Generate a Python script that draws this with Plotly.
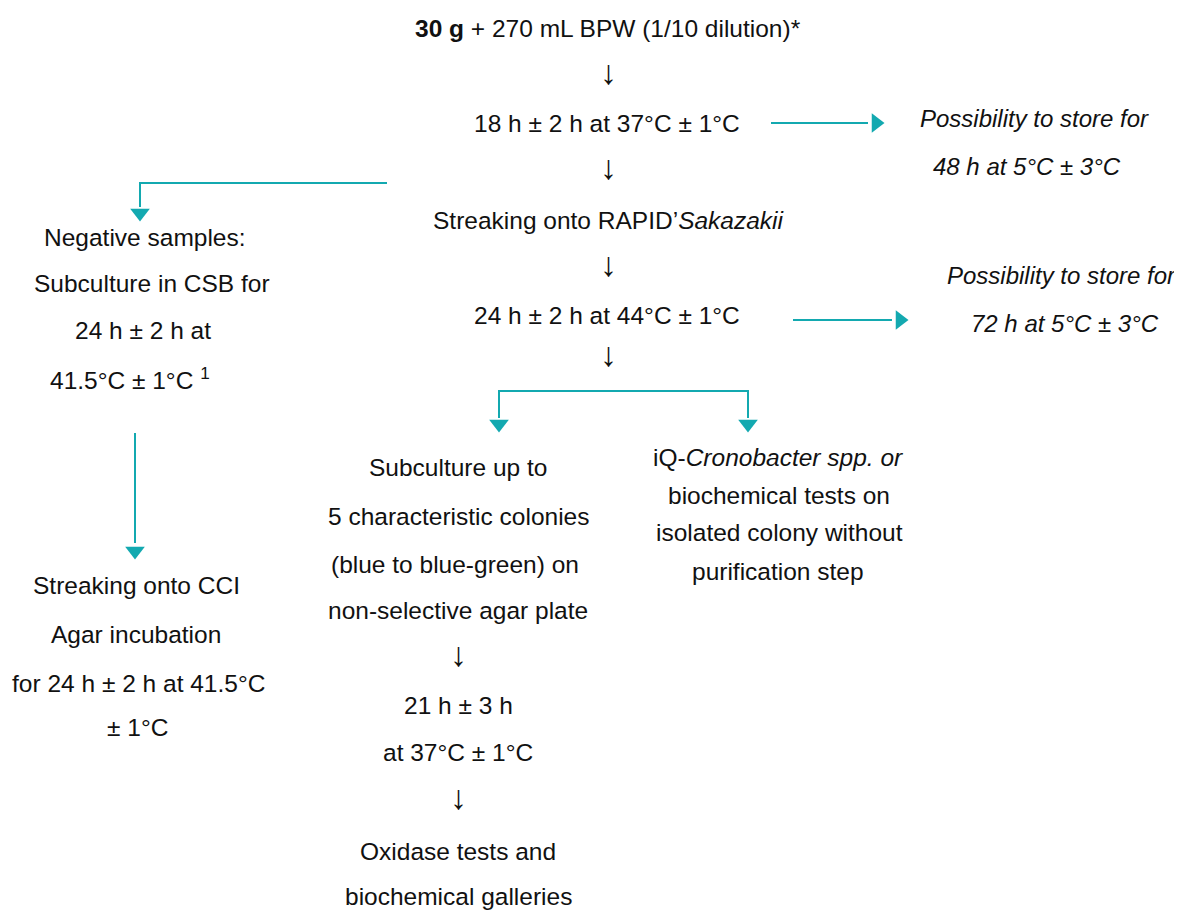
import plotly.graph_objects as go

W, H = 1182, 913
OFF = 8  # page body margin of the html page
FONT = "Liberation Sans Narrow, Arial Narrow, Liberation Sans, Arial"
TEAL = "#13A9B0"

# ---- text content of the flow chart ----
main_steps = [
    "<b>30 g</b> + 270 mL BPW (1/10 dilution)*",
    "↓",
    "18 h ± 2 h at 37°C ± 1°C",
    "↓",
    "Streaking onto RAPID’<i>Sakazakii</i>",
    "↓",
    "24 h ± 2 h at 44°C ± 1°C",
    "↓",
]
main_y = [28, 72, 123, 167, 220, 264, 315, 354]
main_x = [608, 608, 607, 608, 608, 608, 607, 608]

store_texts = [
    "<i>Possibility to store for</i>", "<i>48 h at 5°C ± 3°C</i>",
    "<i>Possibility to store for</i>", "<i>72 h at 5°C ± 3°C</i>",
]
store_x = [1034, 1027, 1061, 1065]
store_y = [118, 166, 275, 323]

neg_texts = [
    "Negative samples:", "Subculture in CSB for", "24 h ± 2 h at",
    "41.5°C ± 1°C <sup>1</sup>",
]
neg_x = [145, 152, 143, 130]
neg_y = [237, 283, 330, 378]

cci_texts = ["Streaking onto CCI", "Agar incubation",
             "for 24 h ± 2 h at 41.5°C", "± 1°C"]
cci_x = [136, 136, 138, 137]
cci_y = [585, 634, 683, 727]

sub_texts = [
    "Subculture up to", "5 characteristic colonies",
    "(blue to blue-green) on", "non-selective agar plate", "↓",
    "21 h ± 3 h", "at 37°C ± 1°C", "↓",
    "Oxidase tests and", "biochemical galleries",
]
sub_x = [458, 458, 455, 458, 458, 458, 458, 458, 458, 458]
sub_y = [467, 516, 564, 610, 654, 705, 752, 797, 851, 896]

iq_texts = ["iQ-<i>Cronobacter spp. or</i>", "biochemical tests on",
            "isolated colony without", "purification step"]
iq_x = [778, 779, 779, 778]
iq_y = [457, 495, 532, 571]

# ---- connector paths (x list, y list) and arrowheads ----
connectors = [
    ([771, 868], [123, 123]),
    ([793, 892], [320, 320]),
    ([387, 140, 140], [183, 183, 207]),
    ([135, 135], [433, 543]),
    ([499, 499, 748, 748], [418, 391, 391, 418]),
]
heads_right_x = [876, 900]
heads_right_y = [123, 320]
heads_down_x = [140, 135, 499, 748]
heads_down_y = [213, 551, 424, 424]

fig = go.Figure()

for xs, ys in connectors:
    fig.add_trace(go.Scatter(x=xs, y=ys, mode="lines",
                             line=dict(color=TEAL, width=2),
                             hoverinfo="skip", showlegend=False))

fig.add_trace(go.Scatter(x=heads_right_x, y=heads_right_y, mode="markers",
                         marker=dict(symbol="triangle-right", size=17, color=TEAL),
                         hoverinfo="skip", showlegend=False))
fig.add_trace(go.Scatter(x=heads_down_x, y=heads_down_y, mode="markers",
                         marker=dict(symbol="triangle-down", size=17, color=TEAL),
                         hoverinfo="skip", showlegend=False))


def add_texts(texts, xs, ys, size=24.5):
    for t, x, y in zip(texts, xs, ys):
        fnt = dict(family=FONT, size=size, color="#111111")
        if t == "↓":
            fnt = dict(family="Liberation Sans, DejaVu Sans", size=34, color="#111111")
        fig.add_annotation(x=x, y=y, text=t, showarrow=False,
                           xanchor="center", yanchor="middle", font=fnt)


add_texts(main_steps, main_x, main_y)
add_texts(store_texts, store_x, store_y, size=24)
add_texts(neg_texts, neg_x, neg_y)
add_texts(cci_texts, cci_x, cci_y)
add_texts(sub_texts, sub_x, sub_y)
add_texts(iq_texts, iq_x, iq_y)

fig.update_layout(
    width=W, height=H,
    margin=dict(l=0, r=0, t=0, b=0),
    paper_bgcolor="white", plot_bgcolor="white",
    xaxis=dict(range=[OFF, W + OFF], visible=False, fixedrange=True),
    yaxis=dict(range=[H + OFF, OFF], visible=False, fixedrange=True),
    showlegend=False,
)

fig.write_html("out.html")
